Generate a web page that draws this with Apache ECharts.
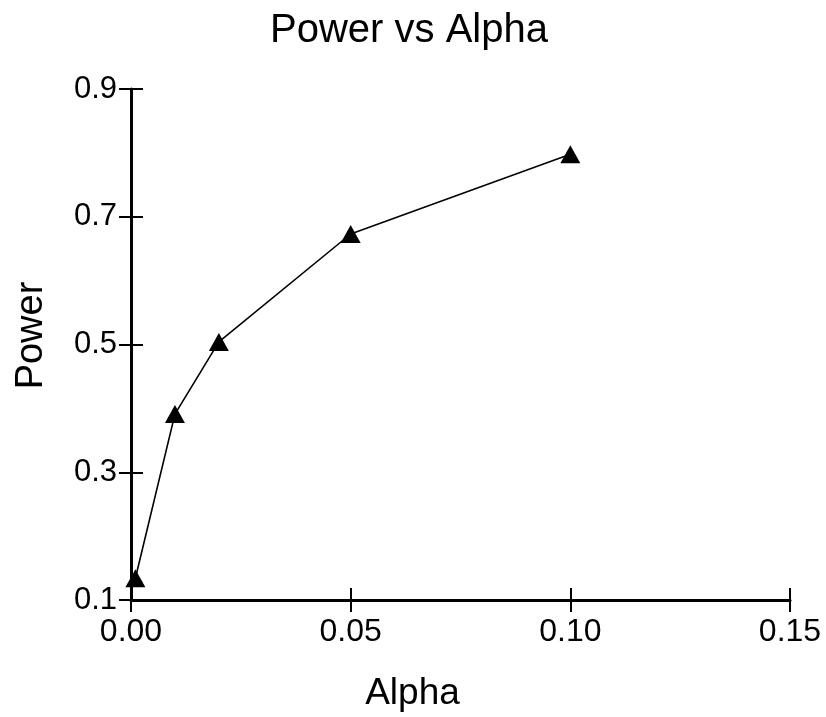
<!DOCTYPE html>
<html>
<head>
<meta charset="utf-8">
<script src="https://cdn.jsdelivr.net/npm/echarts@6/dist/echarts.min.js"></script>
<style>
  html, body { margin: 0; padding: 0; background: #fff; }
  #chart { width: 826px; height: 717px; }
</style>
</head>
<body>
<div id="chart"></div>
<script>
const alpha = [0.001, 0.01, 0.02, 0.05, 0.10];
const power = [0.134, 0.391, 0.504, 0.673, 0.798];
const xTicks = [0, 0.05, 0.10, 0.15];
const yTicks = [0.1, 0.3, 0.5, 0.7, 0.9];

const font = "'Liberation Sans', Arial, sans-serif";

const xBase = {
  type: 'value', min: 0, max: 0.15, interval: 0.05,
  splitLine: { show: false }
};
const yBase = {
  type: 'value', min: 0.1, max: 0.9, interval: 0.2,
  splitLine: { show: false }
};

const option = {
  animation: false,
  backgroundColor: '#fff',
  title: {
    text: 'Power vs Alpha',
    left: 404,
    textAlign: 'center',
    top: 6,
    textStyle: { fontFamily: font, fontSize: 40, fontWeight: 'normal', color: '#000' }
  },
  grid: { left: 131, right: 36, top: 89, bottom: 113 },
  xAxis: [
    Object.assign({}, xBase, {
      name: 'Alpha',
      nameLocation: 'middle',
      nameGap: 75,
      nameTextStyle: { fontFamily: font, fontSize: 37, color: '#000', padding: [0, 96, 0, 0] },
      axisLine: { lineStyle: { color: '#000', width: 3 } },
      axisTick: { inside: false, length: 12, lineStyle: { color: '#000', width: 2 } },
      axisLabel: {
        fontFamily: font, fontSize: 32, color: '#000', margin: 16,
        formatter: v => xTicks.includes(+v.toFixed(2)) ? v.toFixed(2) : ''
      }
    }),
    Object.assign({}, xBase, {
      position: 'bottom',
      axisLine: { show: false },
      axisTick: { inside: true, length: 12, lineStyle: { color: '#000', width: 2 } },
      axisLabel: { show: false }
    })
  ],
  yAxis: [
    Object.assign({}, yBase, {
      name: 'Power',
      nameLocation: 'middle',
      nameGap: 80,
      nameTextStyle: { fontFamily: font, fontSize: 38, color: '#000', padding: [0, 0, 0, 18] },
      axisLine: { lineStyle: { color: '#000', width: 3 } },
      axisTick: { inside: false, length: 12, lineStyle: { color: '#000', width: 2 } },
      axisLabel: {
        fontFamily: font, fontSize: 31, color: '#000', margin: 14,
        formatter: v => yTicks.includes(+v.toFixed(1)) ? v.toFixed(1) : ''
      }
    }),
    Object.assign({}, yBase, {
      position: 'left',
      axisLine: { show: false },
      axisTick: { inside: true, length: 12, lineStyle: { color: '#000', width: 2 } },
      axisLabel: { show: false }
    })
  ],
  series: [{
    type: 'line',
    data: alpha.map((a, i) => [a, power[i]]),
    symbol: 'triangle',
    symbolSize: [20, 18],
    itemStyle: { color: '#000' },
    lineStyle: { color: '#000', width: 1.6 }
  }]
};

const myChart = echarts.init(document.getElementById('chart'));
myChart.setOption(option);
</script>
</body>
</html>
